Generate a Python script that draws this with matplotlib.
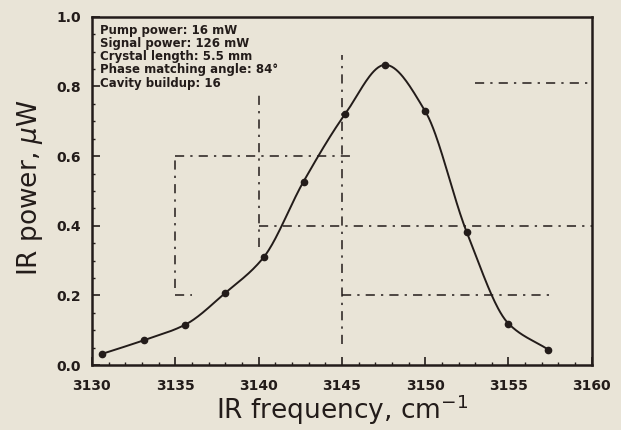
import numpy as np
from matplotlib import pyplot as plt

# measured points (cm^-1, uW)
freq = [3130.6, 3133.1, 3135.6, 3138.0, 3140.3, 3142.7, 3145.2, 3147.6, 3150.0, 3152.5, 3155.0, 3157.4]
power = [0.032, 0.071, 0.116, 0.207, 0.309, 0.527, 0.721, 0.862, 0.729, 0.381, 0.119, 0.044]

# leftover dash-dot guide lines of the original figure: (x0, x1, y0, y1)
guides = [
    (3140, 3140, 0.34, 0.79),
    (3135, 3135, 0.22, 0.60),
    (3145, 3145, 0.06, 0.89),
    (3135, 3145.5, 0.60, 0.60),
    (3153, 3160, 0.81, 0.81),
    (3140, 3160, 0.40, 0.40),
    (3135, 3136, 0.20, 0.20),
    (3145, 3157.5, 0.20, 0.20),
]

notes = ["Pump power: 16 mW",
         "Signal power: 126 mW",
         "Crystal length: 5.5 mm",
         "Phase matching angle: 84°",
         "Cavity buildup: 16"]

xticks = [3130, 3135, 3140, 3145, 3150, 3155, 3160]
yticks = [0.0, 0.2, 0.4, 0.6, 0.8, 1.0]


def pchip(x, y, n=400):
    # shape preserving cubic, only used to draw the smooth curve through the points
    x = np.asarray(x, float)
    y = np.asarray(y, float)
    h = np.diff(x)
    d = np.diff(y) / h
    m = np.zeros(len(x))
    for i in range(1, len(x) - 1):
        if d[i - 1] * d[i] > 0:
            w1 = 2 * h[i] + h[i - 1]
            w2 = h[i] + 2 * h[i - 1]
            m[i] = (w1 + w2) / (w1 / d[i - 1] + w2 / d[i])
    m[0] = d[0]
    m[-1] = d[-1]
    xs = np.linspace(x[0], x[-1], n)
    idx = np.clip(np.searchsorted(x, xs) - 1, 0, len(x) - 2)
    hh = h[idx]
    t = (xs - x[idx]) / hh
    h00 = 2 * t ** 3 - 3 * t ** 2 + 1
    h10 = t ** 3 - 2 * t ** 2 + t
    h01 = -2 * t ** 3 + 3 * t ** 2
    h11 = t ** 3 - t ** 2
    ys = h00 * y[idx] + h10 * hh * m[idx] + h01 * y[idx + 1] + h11 * hh * m[idx + 1]
    return xs, ys


bg = "#e9e4d7"
ink = "#231c1a"

fig = plt.figure(figsize=(6.21, 4.3), dpi=100, facecolor=bg)
ax = fig.add_axes([0.148, 0.151, 0.805, 0.81], facecolor=bg)

for x0, x1, y0, y1 in guides:
    ax.plot([x0, x1], [y0, y1], color=ink, lw=1.1, dashes=(6, 4, 1.5, 4))

xs, ys = pchip(freq, power)
ax.plot(xs, ys, color=ink, lw=1.4)
ax.plot(freq, power, "o", color=ink, ms=4.5)

ax.set_xlim(3130, 3160)
ax.set_ylim(0, 1.0)
ax.set_xticks(xticks)
ax.set_yticks(yticks)
ax.set_xticks(np.arange(3130, 3161, 1), minor=True)
ax.set_yticks(np.arange(0, 1.01, 0.05), minor=True)
ax.set_xticklabels([str(v) for v in xticks], fontsize=10, fontweight="bold", color=ink)
ax.set_yticklabels(["%.1f" % v for v in yticks], fontsize=10, fontweight="bold", color=ink)
ax.tick_params(which="major", direction="in", length=6, width=1.2, color=ink, pad=10)
ax.tick_params(which="minor", direction="in", length=2.5, width=1, color=ink)
ax.tick_params(axis="y", pad=8)
for s in ax.spines.values():
    s.set_linewidth(1.8)
    s.set_color(ink)

fig.text(0.55, 0.025, "IR frequency, cm$^{-1}$", fontsize=19, color=ink,
         ha="center", va="baseline")
fig.text(0.048, 0.564, "IR power, $\\mu$W", fontsize=19, color=ink,
         ha="center", va="center", rotation=90)

for i, line in enumerate(notes):
    ax.text(3130.5, 0.98 - i * 0.038, line, fontsize=8.5, fontweight="bold",
            color=ink, va="top", ha="left")

fig.savefig("out.png", dpi=100, facecolor=bg)
